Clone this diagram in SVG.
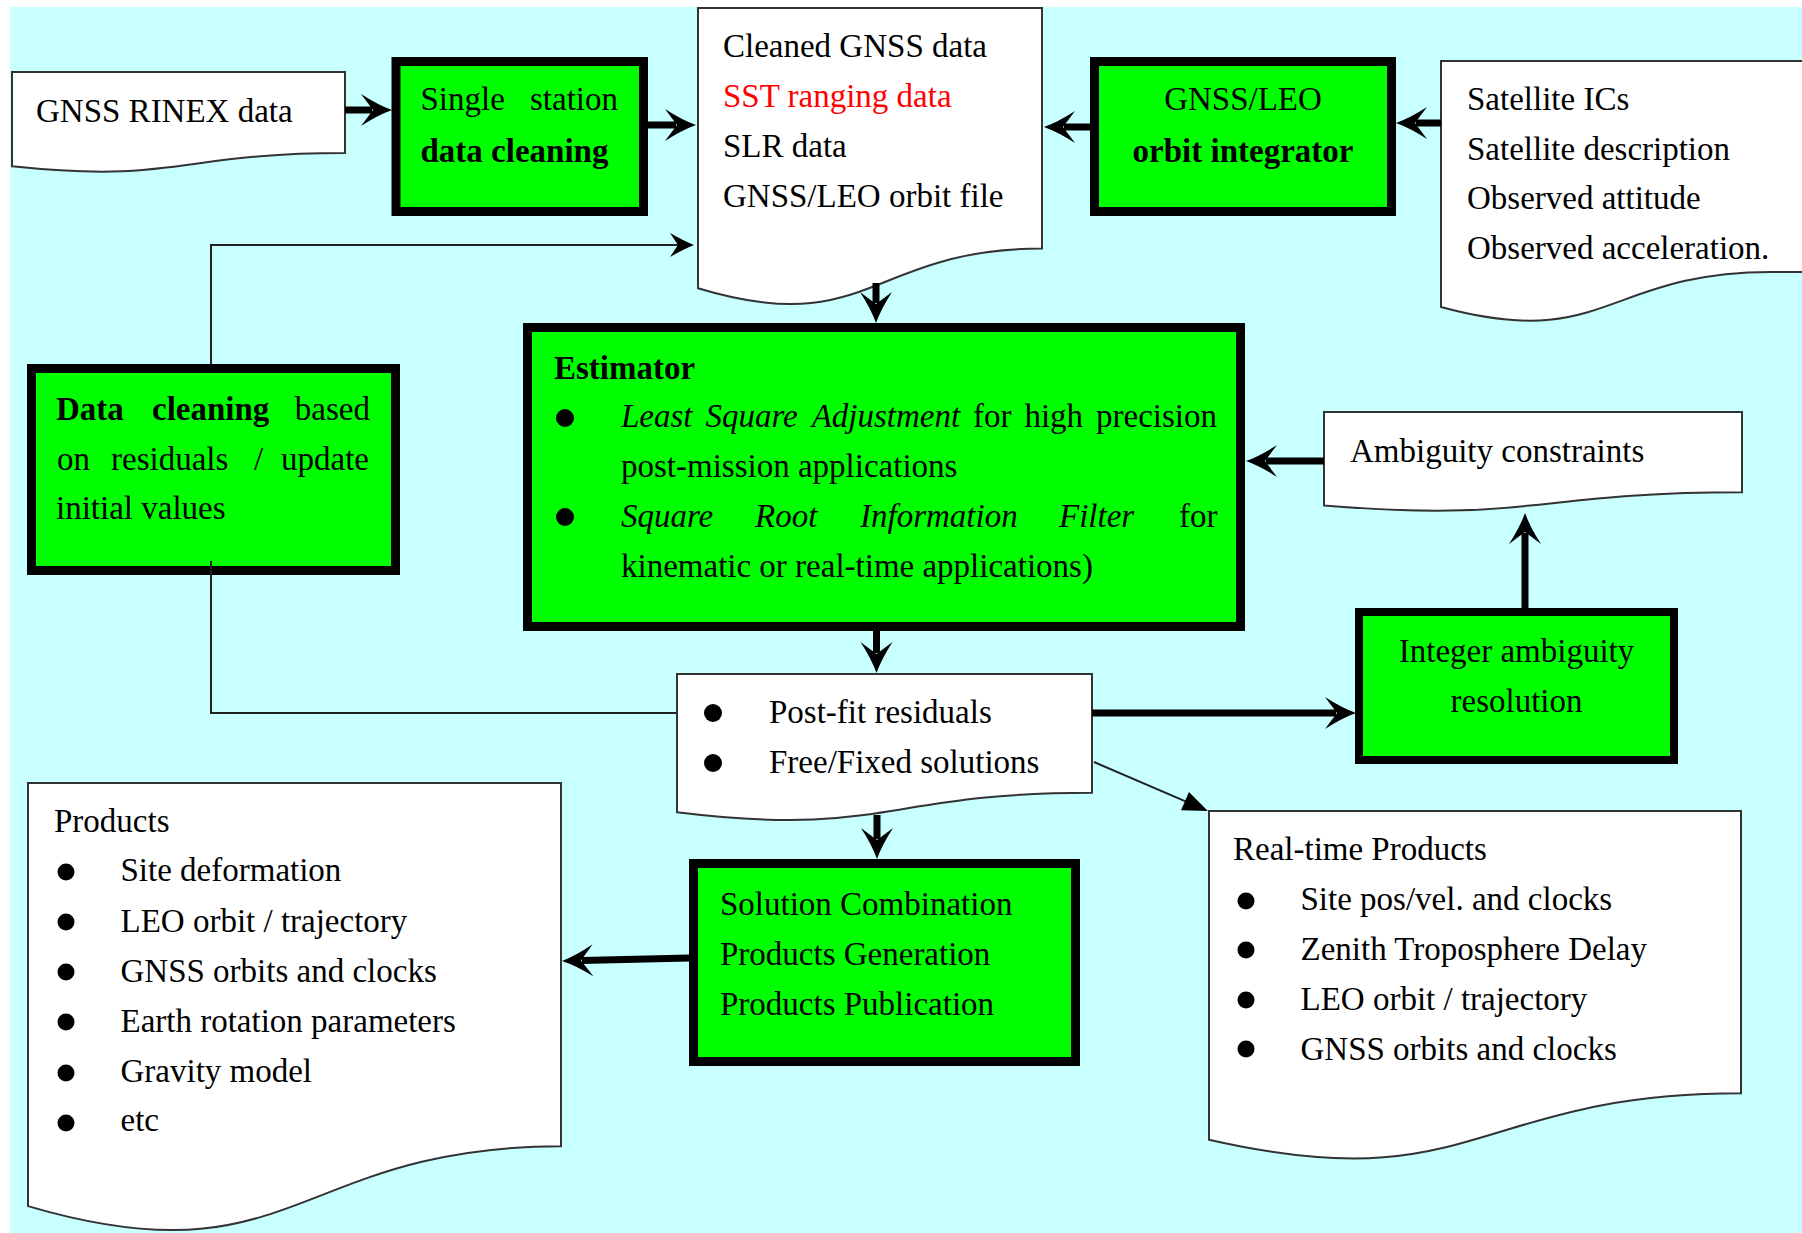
<svg xmlns="http://www.w3.org/2000/svg" width="1802" height="1233" viewBox="0 0 1802 1233">
<style>
text{font-family:"Liberation Serif","Times New Roman",serif;font-size:33px;fill:#000}
.b{font-weight:bold}
.i{font-style:italic}
.red{fill:#FF0000}
.doc{fill:#FFFFFF;stroke:#333333;stroke-width:2}
.proc{fill:#00FF00;stroke:#000000;stroke-width:9}
.thick{fill:none;stroke:#000;stroke-width:7}
.thin{fill:none;stroke:#222;stroke-width:2}
.dot{fill:#000}
</style>
<defs>
<marker id="ah" viewBox="-33 -18 35 36" refX="-20" refY="0" markerWidth="35" markerHeight="36" orient="auto" markerUnits="userSpaceOnUse">
<path d="M0,0 Q-14,-5 -31,-16 L-19,0 L-31,16 Q-14,5 0,0 Z" fill="#000"/>
</marker>
<marker id="ahThin" viewBox="-26 -14 28 28" refX="-14" refY="0" markerWidth="28" markerHeight="28" orient="auto" markerUnits="userSpaceOnUse">
<path d="M0,0 Q-10,-4 -24,-12 L-16,0 L-24,12 Q-10,4 0,0 Z" fill="#000"/>
</marker>
<marker id="tri" viewBox="-27 -12 29 24" refX="-20" refY="0" markerWidth="29" markerHeight="24" orient="auto" markerUnits="userSpaceOnUse">
<path d="M0,0 L-25,-10 L-25,10 Z" fill="#000"/>
</marker>
</defs>
<rect x="0" y="0" width="1802" height="1233" fill="#FFFFFF"/>
<rect x="10" y="7" width="1792" height="1226" fill="#C8FFFF"/>

<g id="rinex">
<path class="doc" d="M12,72 H345 V153 C178.5,153 178.5,183.8 12,166.3 Z"/>
<text x="36" y="122">GNSS RINEX data</text>
</g>

<g id="single-station">
<rect class="proc" x="396" y="61.5" width="247.5" height="150"/>
<text x="420.5" y="110">Single</text>
<text x="618" y="110" text-anchor="end">station</text>
<text class="b" x="420.5" y="162">data cleaning</text>
</g>

<g id="cleaned-data">
<path class="doc" d="M698,8 H1042 V248.6 C870,248.6 870,340.1 698,288.2 Z"/>
<text x="723" y="57">Cleaned GNSS data</text>
<text class="red" x="723" y="107">SST ranging data</text>
<text x="723" y="157">SLR data</text>
<text x="723" y="207">GNSS/LEO orbit file</text>
</g>

<g id="orbit-integrator">
<rect class="proc" x="1094.5" y="61.5" width="297" height="150"/>
<text x="1243" y="110" text-anchor="middle">GNSS/LEO</text>
<text class="b" x="1243" y="162" text-anchor="middle">orbit integrator</text>
</g>

<g id="satellite">
<path class="doc" d="M1441,61 H1806 V272 H1771 C1606,272 1606,352 1441,307 Z"/>
<text x="1467" y="110">Satellite ICs</text>
<text x="1467" y="160">Satellite description</text>
<text x="1467" y="209">Observed attitude</text>
<text x="1467" y="259">Observed acceleration.</text>
</g>

<g id="data-cleaning">
<rect class="proc" x="31.5" y="368.5" width="364" height="202"/>
<text class="b" x="56" y="420">Data</text>
<text class="b" x="152" y="420">cleaning</text>
<text x="370" y="420" text-anchor="end">based</text>
<text x="57" y="470">on</text>
<text x="111" y="470">residuals</text>
<text x="254" y="470">/</text>
<text x="369" y="470" text-anchor="end">update</text>
<text x="56" y="519">initial values</text>
</g>

<g id="estimator">
<rect class="proc" x="527.5" y="327.5" width="713" height="299"/>
<text class="b" x="554" y="379">Estimator</text>
<circle class="dot" cx="565" cy="418" r="9"/>
<text y="427"><tspan class="i" x="621">Least</tspan><tspan class="i" x="705.4">Square</tspan><tspan class="i" x="811.7">Adjustment</tspan><tspan x="973.1">for</tspan><tspan x="1024.4">high</tspan><tspan x="1096">precision</tspan></text>
<text x="621" y="477">post-mission applications</text>
<circle class="dot" cx="565" cy="517" r="9"/>
<text y="527"><tspan class="i" x="621">Square</tspan><tspan class="i" x="755">Root</tspan><tspan class="i" x="860">Information</tspan><tspan class="i" x="1059">Filter</tspan><tspan x="1179">for</tspan></text>
<text x="621" y="577">kinematic or real-time applications)</text>
</g>

<g id="ambiguity-constraints">
<path class="doc" d="M1324,412 H1742 V492.2 C1533,492.2 1533,522.7 1324,505.4 Z"/>
<text x="1350" y="462">Ambiguity constraints</text>
</g>

<g id="integer-ambiguity">
<rect class="proc" x="1359" y="612" width="315" height="148" style="stroke-width:8"/>
<text x="1516.5" y="662" text-anchor="middle">Integer ambiguity</text>
<text x="1516.5" y="712" text-anchor="middle">resolution</text>
</g>

<g id="postfit">
<path class="doc" d="M677,674 H1092 V792.7 C884.5,792.7 884.5,837.8 677,812.2 Z"/>
<circle class="dot" cx="713" cy="713" r="9"/>
<text x="769" y="723">Post-fit residuals</text>
<circle class="dot" cx="713" cy="763" r="9"/>
<text x="769" y="773">Free/Fixed solutions</text>
</g>

<g id="products">
<path class="doc" d="M28,783 H561 V1146.3 C294.5,1146.3 294.5,1284.5 28,1206.1 Z"/>
<text x="54" y="832">Products</text>
<circle class="dot" cx="66" cy="872" r="8.5"/>
<text x="120.5" y="881">Site deformation</text>
<circle class="dot" cx="66" cy="922" r="8.5"/>
<text x="120.5" y="932">LEO orbit / trajectory</text>
<circle class="dot" cx="66" cy="972" r="8.5"/>
<text x="120.5" y="982">GNSS orbits and clocks</text>
<circle class="dot" cx="66" cy="1022" r="8.5"/>
<text x="120.5" y="1032">Earth rotation parameters</text>
<circle class="dot" cx="66" cy="1073" r="8.5"/>
<text x="120.5" y="1082">Gravity model</text>
<circle class="dot" cx="66" cy="1123" r="8.5"/>
<text x="120.5" y="1131">etc</text>
</g>

<g id="solution">
<rect class="proc" x="693.5" y="863.5" width="382" height="198"/>
<text x="720" y="915">Solution Combination</text>
<text x="720" y="965">Products Generation</text>
<text x="720" y="1015">Products Publication</text>
</g>

<g id="realtime">
<path class="doc" d="M1209,811 H1741 V1093.3 C1475,1093.3 1475,1200.7 1209,1139.8 Z"/>
<text x="1233" y="860">Real-time Products</text>
<circle class="dot" cx="1246" cy="901" r="8.5"/>
<text x="1300.5" y="910">Site pos/vel. and clocks</text>
<circle class="dot" cx="1246" cy="950" r="8.5"/>
<text x="1300.5" y="960">Zenith Troposphere Delay</text>
<circle class="dot" cx="1246" cy="1000" r="8.5"/>
<text x="1300.5" y="1010">LEO orbit / trajectory</text>
<circle class="dot" cx="1246" cy="1049" r="8.5"/>
<text x="1300.5" y="1060">GNSS orbits and clocks</text>
</g>

<g id="connectors">
<path class="thick" d="M345,110 H372" marker-end="url(#ah)"/>
<path class="thick" d="M648,125 H676" marker-end="url(#ah)"/>
<path class="thick" d="M1090,127 H1064" marker-end="url(#ah)"/>
<path class="thick" d="M1441,123 H1416" marker-end="url(#ah)"/>
<path class="thick" d="M876,283 V303" marker-end="url(#ah)"/>
<path class="thick" d="M1324,461 H1266" marker-end="url(#ah)"/>
<path class="thick" d="M1525,608 V533" marker-end="url(#ah)"/>
<path class="thick" d="M876.5,631 V653" marker-end="url(#ah)"/>
<path class="thick" d="M1092,713 H1336" marker-end="url(#ah)"/>
<path class="thick" d="M877,815 V839" marker-end="url(#ah)"/>
<path class="thick" d="M689,958 L582,960.5" marker-end="url(#ah)"/>
<path class="thin" d="M1094,762 L1189.6,803.1" marker-end="url(#tri)"/>
<path class="thin" d="M677,713 H211 V561"/>
<path class="thin" d="M211,364 V245 H680" marker-end="url(#ahThin)"/>
</g>
</svg>
